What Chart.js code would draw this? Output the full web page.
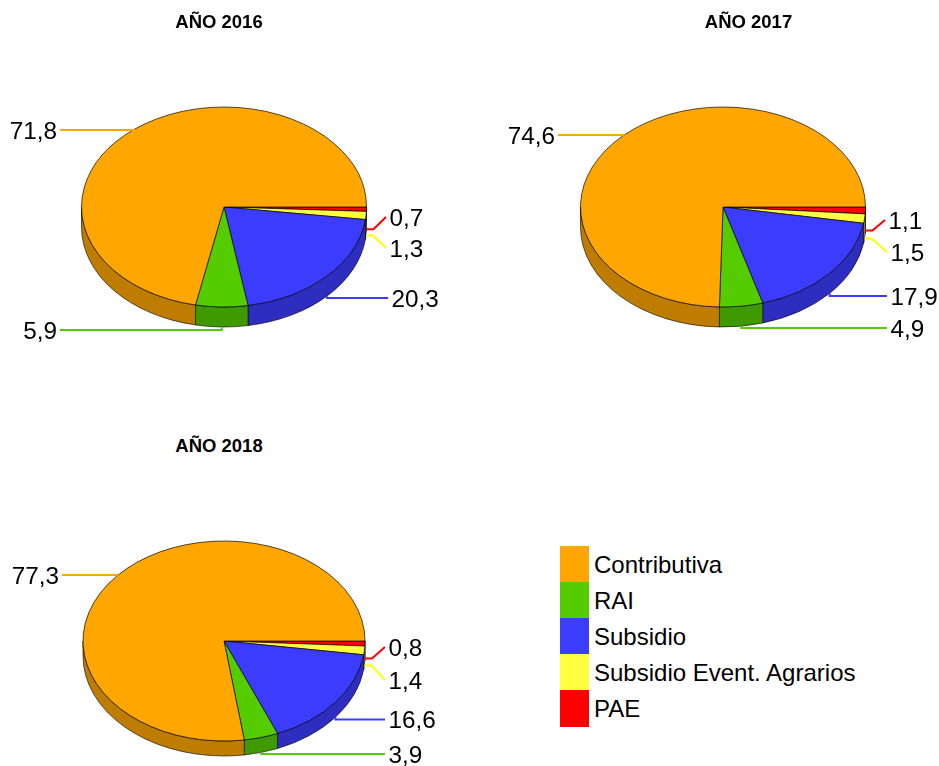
<!DOCTYPE html>
<html lang="es">
<head>
<meta charset="utf-8">
<title>Pensiones 2016-2018</title>
<script src="https://cdn.jsdelivr.net/npm/chart.js@4"></script>
<style>
  html, body { margin: 0; padding: 0; background: #fff; }
  #page { position: relative; width: 939px; height: 766px; overflow: hidden; font-family: "Liberation Sans", Arial, sans-serif; color: #000; }
  #page canvas { position: absolute; }
  .pie-title { position: absolute; transform: translateX(-50%); font-size: 18.5px; font-weight: bold; line-height: 20px; white-space: nowrap; }
  .legend-swatch { position: absolute; left: 560px; width: 29px; }
  .legend-label { position: absolute; left: 594px; font-size: 24px; line-height: 38px; white-space: nowrap; }
</style>
</head>
<body>
<div id="page"></div>
<script>
// --- Data ---
const categories = ['Contributiva', 'RAI', 'Subsidio', 'Subsidio Event. Agrarios', 'PAE'];
const values2016 = [71.8, 5.9, 20.3, 1.3, 0.7];
const values2017 = [74.6, 4.9, 17.9, 1.5, 1.1];
const values2018 = [77.3, 3.9, 16.6, 1.4, 0.8];

const topColors = ['#FFA600', '#55CC00', '#3C3CFF', '#FFFF40', '#FF0000'];
const sideColors = ['#BF7D00', '#3F9900', '#2D2DBF', '#BFBF30', '#BF0000'];
const lineColors = ['#FFA600', '#55CC00', '#3C3CFF', '#FFFF00', '#FF0000'];

// --- Layout of each pie (page pixels) ---
const pies = [
  {
    title: 'AÑO 2016', titleX: 219, titleY: 12, values: values2016,
    left: 0, top: 0, width: 448, height: 414, radius: 142.5, ry: 100, depth: 20,
    ends: [[60, 130], [60, 330], [388, 298], [386, 248], [386, 217]],
  },
  {
    title: 'AÑO 2017', titleX: 748.5, titleY: 12, values: values2017,
    left: 507, top: 0, width: 432, height: 414, radius: 142.5, ry: 100, depth: 20,
    ends: [[558, 135], [887, 328], [887, 296], [887, 252], [885, 220]],
  },
  {
    title: 'AÑO 2018', titleX: 219, titleY: 436, values: values2018,
    left: 0, top: 516, width: 448, height: 250, radius: 141, ry: 100, depth: 15,
    ends: [[62, 575], [385, 754], [385, 719.5], [385, 680], [385, 647]],
  },
];

const legendTops = [546, 582, 618, 654, 690];
const legendHeights = [36, 36, 36, 36, 37];

// --- 3D look: squashes the arcs, adds the wall, then leader lines and labels ---
const pie3dPlugin = {
  id: 'pie3d',
  beforeDatasetsDraw(chart, args, opts) {
    const ctx = chart.ctx;
    const arcs = chart.getDatasetMeta(0).data;
    const squash = opts.ry / opts.radius;

    arcs.forEach((arc, i) => {
      const from = Math.max(arc.startAngle, 0);
      const to = Math.min(arc.endAngle, Math.PI);
      if (to <= from) return;
      ctx.save();
      ctx.beginPath();
      ctx.ellipse(arc.x, arc.y, arc.outerRadius, arc.outerRadius * squash, 0, from, to);
      ctx.ellipse(arc.x, arc.y + opts.depth, arc.outerRadius, arc.outerRadius * squash, 0, to, from, true);
      ctx.closePath();
      ctx.fillStyle = opts.sides[i];
      ctx.fill();
      ctx.lineWidth = 0.8;
      ctx.strokeStyle = 'rgba(0,0,0,0.75)';
      ctx.stroke();
      ctx.restore();
    });

    const first = arcs[0];
    ctx.save();
    ctx.translate(first.x, first.y);
    ctx.scale(1, squash);
    ctx.translate(-first.x, -first.y);
  },
  afterDatasetsDraw(chart, args, opts) {
    const ctx = chart.ctx;
    ctx.restore();

    const arcs = chart.getDatasetMeta(0).data;
    const squash = opts.ry / opts.radius;
    ctx.save();
    ctx.font = '24.3px "Liberation Sans", Arial, sans-serif';
    ctx.textBaseline = 'middle';
    ctx.fillStyle = '#000';

    arcs.forEach((arc, i) => {
      const mid = (arc.startAngle + arc.endAngle) / 2;
      const startX = arc.x + arc.outerRadius * Math.cos(mid);
      let startY = arc.y + arc.outerRadius * squash * Math.sin(mid);
      if (Math.sin(mid) > 0) startY += opts.depth;

      const seriesIndex = arcs.length - 1 - i;
      const end = opts.ends[seriesIndex];
      const endX = end[0] - opts.left;
      const endY = end[1] - opts.top;

      ctx.beginPath();
      ctx.moveTo(startX, startY);
      if (seriesIndex >= 3) ctx.lineTo(startX + 7, startY);   // thin slices get a small stub
      else ctx.lineTo(startX, endY);
      ctx.lineTo(endX, endY);
      ctx.lineWidth = 2;
      ctx.strokeStyle = lineColors[seriesIndex];
      ctx.stroke();

      const onLeft = endX < arc.x;
      ctx.textAlign = onLeft ? 'right' : 'left';
      const text = chart.data.datasets[0].data[i].toFixed(1).replace('.', ',');
      ctx.fillText(text, endX + (onLeft ? -3 : 3.5), endY + 2);
    });
    ctx.restore();
  },
};

// --- Render functions ---
const page = document.getElementById('page');

function renderPie(pie) {
  const canvas = document.createElement('canvas');
  canvas.width = pie.width;
  canvas.height = pie.height;
  canvas.style.left = pie.left + 'px';
  canvas.style.top = pie.top + 'px';
  canvas.style.width = pie.width + 'px';
  canvas.style.height = pie.height + 'px';
  page.appendChild(canvas);

  const titleEl = document.createElement('div');
  titleEl.className = 'pie-title';
  titleEl.textContent = pie.title;
  titleEl.style.left = pie.titleX + 'px';
  titleEl.style.top = pie.titleY + 'px';
  page.appendChild(titleEl);

  // Clockwise from 3 o'clock the picture runs PAE -> Contributiva, so feed it reversed
  new Chart(canvas, {
    type: 'pie',
    data: {
      labels: [...categories].reverse(),
      datasets: [{
        data: [...pie.values].reverse(),
        backgroundColor: [...topColors].reverse(),
        borderColor: 'rgba(0,0,0,0.8)',
        borderWidth: 1,
        radius: pie.radius,
        clip: false,
      }],
    },
    options: {
      responsive: false,
      animation: false,
      rotation: 90,
      layout: { padding: 0 },
      plugins: {
        legend: { display: false },
        tooltip: { enabled: false },
        pie3d: {
          radius: pie.radius,
          ry: pie.ry,
          depth: pie.depth,
          left: pie.left,
          top: pie.top,
          ends: pie.ends,
          sides: [...sideColors].reverse(),
        },
      },
    },
    plugins: [pie3dPlugin],
  });
}

function renderLegend() {
  categories.forEach((name, i) => {
    const swatch = document.createElement('div');
    swatch.className = 'legend-swatch';
    swatch.style.top = legendTops[i] + 'px';
    swatch.style.height = legendHeights[i] + 'px';
    swatch.style.background = topColors[i];
    page.appendChild(swatch);

    const label = document.createElement('div');
    label.className = 'legend-label';
    label.style.top = legendTops[i] + 'px';
    label.textContent = name;
    page.appendChild(label);
  });
}

// --- Init ---
pies.forEach(renderPie);
renderLegend();
</script>
</body>
</html>
